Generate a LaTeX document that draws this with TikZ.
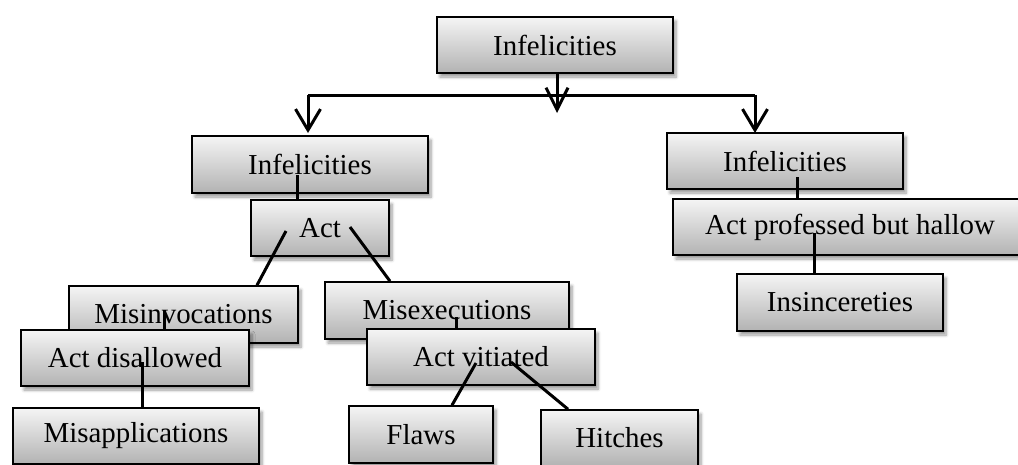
\documentclass[tikz,border=0pt]{standalone}
\usepackage{fontspec}
\setmainfont{Liberation Serif}
\usetikzlibrary{arrows.meta,shadows.blur}
\begin{document}
\begin{tikzpicture}[x=1pt,y=-1pt,
  box/.style={draw=black,line width=1.6pt,rectangle,inner sep=0pt,
    top color=black!4,bottom color=black!30,
    blur shadow={shadow xshift=3pt,shadow yshift=-4pt,shadow blur radius=3pt,shadow blur steps=6,shadow opacity=40},
    font=\fontsize{28.9pt}{32pt}\selectfont,text=black},
  conn/.style={draw=black,line width=3pt},
  vtip/.style={-{Straight Barb[length=21pt,width=25pt]}}
]
\useasboundingbox (0,0) rectangle (1018,464);
% boxes
\node[box,minimum width=236pt,minimum height=56pt] (T) at (555,45) {Infelicities};
\node[box,minimum width=236pt,minimum height=57pt] (L1) at (310,164.5) {Infelicities};
\node[box,minimum width=236pt,minimum height=56pt] (R1) at (785,161) {Infelicities};
\node[box,minimum width=138pt,minimum height=56pt] (Act) at (320,228) {Act};
\node[box,minimum width=354pt,minimum height=56pt] (AP) at (850,227) {Act professed but hallow};
\node[box,minimum width=206pt,minimum height=57pt] (Ins) at (840,302.5) {Insincereties};
\node[box,minimum width=229pt,minimum height=57pt] (Misinv) at (183.5,314.5) {Misinvocations};
\node[box,minimum width=244pt,minimum height=57pt] (Misex) at (447,310.5) {Misexecutions};
\node[box,minimum width=228pt,minimum height=56pt] (AD) at (135,358) {Act disallowed};
\node[box,minimum width=228pt,minimum height=56pt] (AV) at (481,357) {Act vitiated};
\node[box,minimum width=246pt,minimum height=56pt] (Misapp) at (136,436) {Misapplications};
\node[box,minimum width=144pt,minimum height=57pt] (Flaws) at (421,434.5) {Flaws};
\node[box,minimum width=157pt,minimum height=56pt] (Hitches) at (619.5,438) {Hitches};
% top distribution arrows
\coordinate (hl) at (308,95);
\coordinate (hr) at (755,95);
\coordinate (tl) at (308,133);
\coordinate (tr) at (755,133);
\coordinate (tm) at (557,113);
\draw[conn] (hl) -- (hr);
\draw[conn,vtip] (hl) -- (tl);
\draw[conn,vtip] (hr) -- (tr);
\draw[conn,-{Straight Barb[length=22pt,width=22pt]}] ([xshift=2pt]T.south) -- (tm);
% connectors
\draw[conn] ([xshift=-13pt,yshift=-10.5pt]L1.center) -- ([xshift=-23pt]Act.north);
\draw[conn] ([xshift=-34pt,yshift=-3pt]Act.center) -- ([xshift=73.5pt]Misinv.north);
\draw[conn] ([xshift=30pt,yshift=1pt]Act.center) -- ([xshift=-57pt]Misex.north);
\draw[conn] ([xshift=-19.5pt,yshift=4.5pt]Misinv.center) -- ([xshift=29pt]AD.north);
\draw[conn] ([xshift=7pt,yshift=-4pt]AD.center) -- ([xshift=6pt]Misapp.north);
\draw[conn] ([xshift=9pt,yshift=-6.5pt]Misex.center) -- ([xshift=-25pt]AV.north);
\draw[conn] ([xshift=-5pt,yshift=-6pt]AV.center) -- ([xshift=31pt]Flaws.north);
\draw[conn] ([xshift=30pt,yshift=-5pt]AV.center) -- ([xshift=-51.5pt]Hitches.north);
\draw[conn] ([xshift=12pt,yshift=-16pt]R1.center) -- ([xshift=-53pt]AP.north);
\draw[conn] ([xshift=-36pt,yshift=-6pt]AP.center) -- ([xshift=-26pt]Ins.north);
\end{tikzpicture}
\end{document}
